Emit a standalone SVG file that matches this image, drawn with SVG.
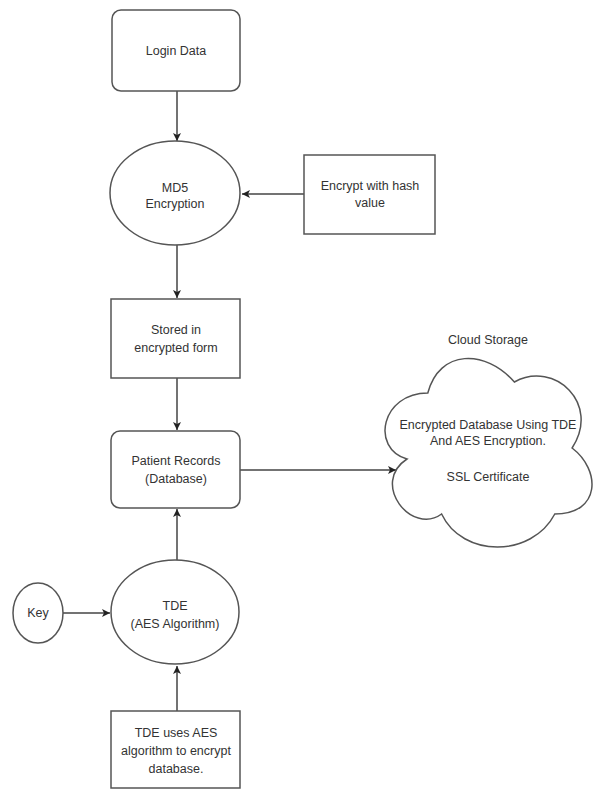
<svg xmlns="http://www.w3.org/2000/svg" width="593" height="790" viewBox="0 0 593 790">
<defs>
<marker id="arr" markerWidth="10" markerHeight="10" refX="9" refY="5" orient="auto" markerUnits="userSpaceOnUse">
<path d="M1,1 L9,5 L1,9 L3,5 Z" fill="#222"/>
</marker>
<style>
.s{fill:#fff;stroke:#555;stroke-width:1.5}
.t{font-family:"Liberation Sans",Arial,sans-serif;font-size:12.5px;fill:#333;text-anchor:middle}
.c{stroke:#444;stroke-width:1.5;fill:none;marker-end:url(#arr)}
</style>
</defs>
<rect width="593" height="790" fill="#fff"/>
<g id="connectors">
<line class="c" x1="177" y1="91" x2="177" y2="141"/>
<line class="c" x1="304" y1="194" x2="242" y2="194"/>
<line class="c" x1="177" y1="245" x2="177" y2="298"/>
<line class="c" x1="177" y1="378" x2="177" y2="430"/>
<line class="c" x1="240" y1="470" x2="396" y2="470"/>
<line class="c" x1="177" y1="560" x2="177" y2="509"/>
<line class="c" x1="63" y1="613" x2="110" y2="613"/>
<line class="c" x1="177" y1="711" x2="177" y2="666"/>
</g>
<g id="login">
<rect class="s" x="112" y="10" width="128" height="81" rx="9"/>
<text class="t" x="176" y="55">Login Data</text>
</g>
<g id="md5">
<ellipse class="s" cx="175" cy="193" rx="65" ry="52"/>
<text class="t" x="175" y="192">MD5</text>
<text class="t" x="175" y="208">Encryption</text>
</g>
<g id="hash">
<rect class="s" x="304" y="155" width="131" height="79"/>
<text class="t" x="370" y="190">Encrypt with hash</text>
<text class="t" x="370" y="207">value</text>
</g>
<g id="stored">
<rect class="s" x="111" y="299" width="129" height="79"/>
<text class="t" x="176" y="334">Stored in</text>
<text class="t" x="176" y="352">encrypted form</text>
</g>
<g id="patient">
<rect class="s" x="111" y="431" width="129" height="77" rx="9"/>
<text class="t" x="176" y="465">Patient Records</text>
<text class="t" x="176" y="483">(Database)</text>
</g>
<g id="tde">
<ellipse class="s" cx="175" cy="612" rx="64" ry="52"/>
<text class="t" x="175" y="610">TDE</text>
<text class="t" x="175" y="628">(AES Algorithm)</text>
</g>
<g id="key">
<ellipse class="s" cx="38" cy="613" rx="25" ry="30"/>
<text class="t" x="38" y="617">Key</text>
</g>
<g id="tdeuses">
<rect class="s" x="111" y="711" width="129" height="77"/>
<text class="t" x="176" y="737">TDE uses AES</text>
<text class="t" x="176" y="755">algorithm to encrypt</text>
<text class="t" x="176" y="773">database.</text>
</g>
<g id="cloud">
<path class="s" d="M427.8,393 C381.6,393 370,448 406.96,459 C370,483.2 411.6,536 441.6,514 C462.4,558 531.7,558 554.8,514 C601,514 601,470 572.1,448 C601,404 554.8,360 514.4,382 C485.5,349 439.3,349 427.8,393 Z"/>
<text class="t" x="488" y="344">Cloud Storage</text>
<text class="t" x="488" y="429">Encrypted Database Using TDE</text>
<text class="t" x="488" y="445">And AES Encryption.</text>
<text class="t" x="488" y="481">SSL Certificate</text>
</g>
</svg>
